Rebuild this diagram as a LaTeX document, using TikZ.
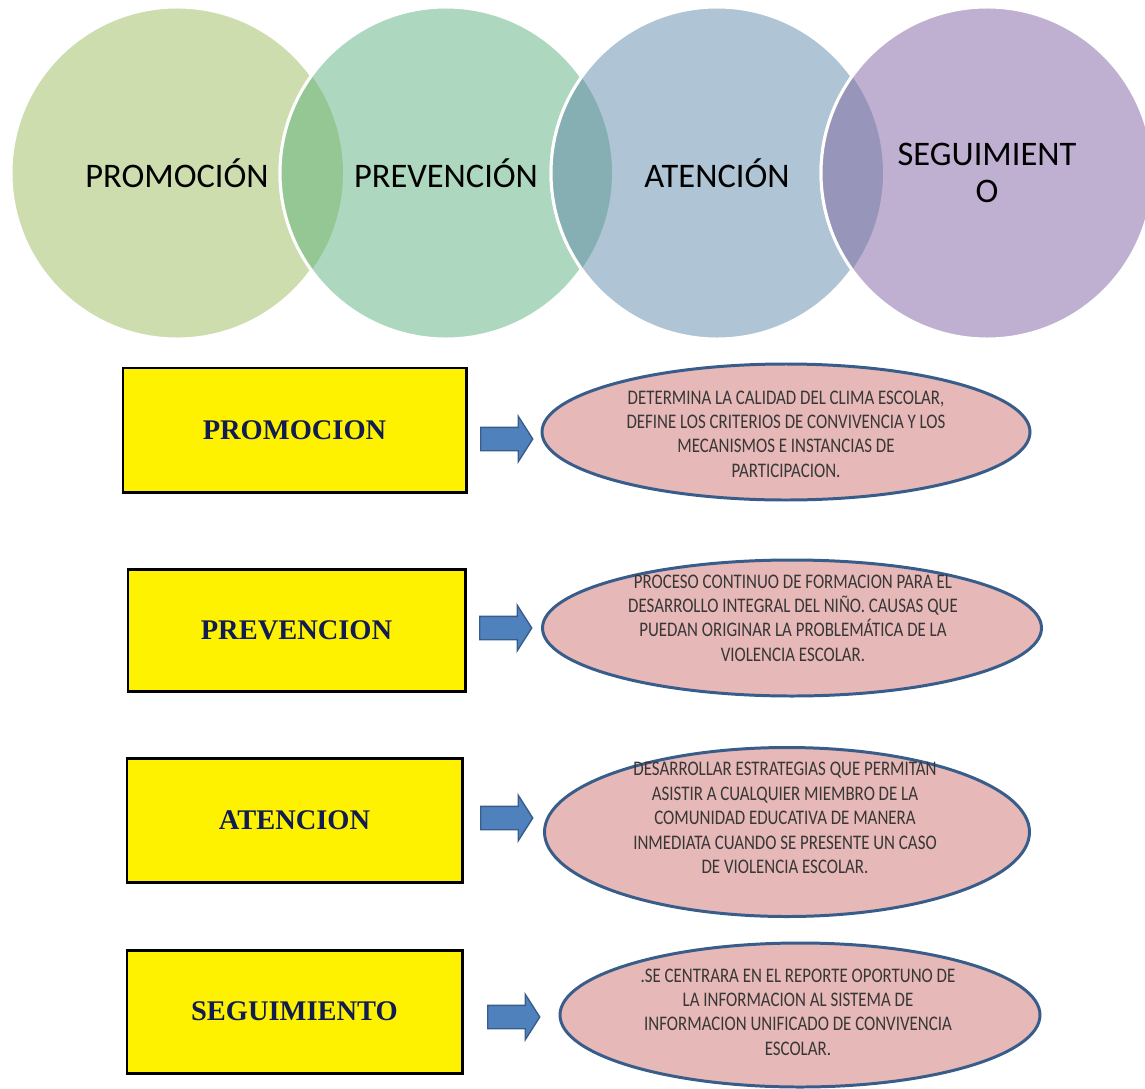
\documentclass[tikz,border=0pt]{standalone}
\usepackage{fontspec}
\setmainfont{Carlito}
\newfontfamily\stagefont{Liberation Serif}
\newfontfamily\narrowfont[FakeStretch=0.815]{Carlito}
\usetikzlibrary{shapes.geometric,shapes.arrows}

\definecolor{promocion}{RGB}{205,221,174}
\definecolor{prevencion}{RGB}{173,216,191}
\definecolor{atencion}{RGB}{175,196,212}
\definecolor{seguimiento}{RGB}{191,176,209}
\definecolor{overlapA}{RGB}{149,199,149}
\definecolor{overlapB}{RGB}{133,175,178}
\definecolor{overlapC}{RGB}{151,149,185}
\definecolor{navy}{RGB}{17,28,80}
\definecolor{ellfill}{RGB}{230,184,183}
\definecolor{ellborder}{RGB}{56,93,138}
\definecolor{arrowfill}{RGB}{79,129,189}
\definecolor{textgray}{RGB}{55,55,55}

\def\px{0.02cm}
\def\rc{3.32cm}

\begin{document}
\begin{tikzpicture}[%
	x=\px, y=-\px,%
	circ/.style ={circle, minimum size=332*\px, inner sep=0pt, draw=white, line width=1.7pt, align=center, font=\fontsize{19.6}{21}\selectfont},%
	stage/.style ={draw=black, line width=1.7pt, fill=yellow, text=navy, font=\stagefont\bfseries\fontsize{16.2}{19}\selectfont},%
	desc/.style ={ellipse, draw=ellborder, line width=1.7pt, fill=ellfill, inner sep=0pt},%
	desctext/.style ={align=center, text=textgray, font=\narrowfont\fontsize{11.8}{13.9}\selectfont},%
	blockarrow/.style ={single arrow, draw=ellborder, fill=arrowfill, line width=0.8pt, inner xsep=0pt, inner ysep=0.22cm, minimum height=52*\px, single arrow head extend=0.22cm, single arrow tip angle=115},%
	]
\useasboundingbox (0,0) rectangle (1145,1088);
%%% circles
	\foreach \n/\x/\col/\txt in {1/177/promocion/PROMOCIÓN,2/446/prevencion/PREVENCIÓN,3/717/atencion/ATENCIÓN,4/987/seguimiento/{SEGUIMIENT\\O}}
		{\node [circ, fill=\col] (c\n) at (\x,173) {\txt};}
	\foreach \a/\b/\col in {1/2/overlapA,2/3/overlapB,3/4/overlapC}
		{\begin{scope}
			\clip (c\a.center) circle (\rc);
			\fill [\col] (c\b.center) circle (\rc);
			\draw [white, line width=1.7pt] (c\b.center) circle (\rc);
		\end{scope}}
%%% circles
%%% boxes
	\node [stage, minimum width=343*\px, minimum height=124*\px] (promo) at (294.5,430) {PROMOCION};
	\node [stage, minimum width=337*\px, minimum height=122*\px] (preven) at (296.5,630) {PREVENCION};
	\node [stage, minimum width=335*\px, minimum height=124*\px] (aten) at (294.5,820) {ATENCION};
	\node [stage, minimum width=335*\px, minimum height=123*\px] (segui) at (294.5,1011.5) {SEGUIMIENTO};
%%% boxes
%%% arrows
	\node [blockarrow] (a1) at (503,439) {};
	\node [blockarrow] (a2) at (502,628) {};
	\node [blockarrow] (a3) at (503,818) {};
	\node [blockarrow] (a4) at (510,1017) {};
%%% arrows
%%% ellipses
	\node [desc, minimum width=488*\px, minimum height=136*\px] (e1) at (786,432) {};
	\node [desc, minimum width=499*\px, minimum height=136*\px] (e2) at (792,628) {};
	\node [desc, minimum width=485*\px, minimum height=169*\px] (e3) at (787,832) {};
	\node [desc, minimum width=480*\px, minimum height=144*\px] (e4) at (800,1015) {};
	\node [desctext] (t1) at (786,434) {DETERMINA LA CALIDAD DEL CLIMA ESCOLAR,\\DEFINE LOS CRITERIOS DE CONVIVENCIA Y LOS\\MECANISMOS E INSTANCIAS DE\\PARTICIPACION.};
	\node [desctext] (t2) at (793,618) {PROCESO CONTINUO DE FORMACION PARA EL\\DESARROLLO INTEGRAL DEL NIÑO. CAUSAS QUE\\PUEDAN ORIGINAR LA PROBLEMÁTICA DE LA\\VIOLENCIA ESCOLAR.};
	\node [desctext] (t3) at (785,818) {DESARROLLAR ESTRATEGIAS QUE PERMITAN\\ASISTIR A CUALQUIER MIEMBRO DE LA\\COMUNIDAD EDUCATIVA DE MANERA\\INMEDIATA CUANDO SE PRESENTE UN  CASO\\DE VIOLENCIA ESCOLAR.};
	\node [desctext] (t4) at (798,1012) {.SE CENTRARA EN EL REPORTE OPORTUNO DE\\LA INFORMACION AL SISTEMA DE\\INFORMACION UNIFICADO DE CONVIVENCIA\\ESCOLAR.};
%%% ellipses
\end{tikzpicture}
\end{document}
